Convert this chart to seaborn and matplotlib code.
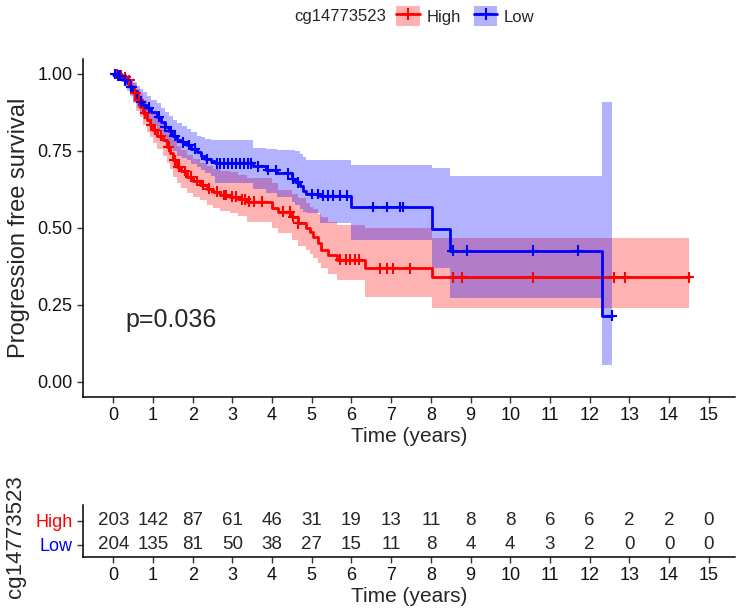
import numpy as np
import pandas as pd
import matplotlib
matplotlib.use("Agg")
import matplotlib.pyplot as plt
import seaborn as sns
from matplotlib.patches import Patch
from matplotlib.lines import Line2D

# Kaplan-Meier steps (time, survival, 95% CI)
high_time = [0.00, 0.15, 0.25, 0.34, 0.42, 0.50, 0.58, 0.67, 0.76, 0.84, 0.92, 1.00, 1.10, 1.26,
             1.35, 1.43, 1.51, 1.60, 1.70, 1.85, 2.00, 2.18, 2.35, 2.52, 2.70, 2.94, 3.15, 3.36,
             4.00, 4.15, 4.50, 4.65, 4.85, 4.95, 5.02, 5.15, 5.22, 5.40, 5.64, 6.34, 8.02]
high_surv = [1.000, 0.995, 0.990, 0.980, 0.960, 0.937, 0.915, 0.894, 0.872, 0.850, 0.835, 0.818,
             0.800, 0.786, 0.764, 0.742, 0.720, 0.699, 0.685, 0.666, 0.652, 0.639, 0.627, 0.617,
             0.607, 0.601, 0.593, 0.585, 0.565, 0.552, 0.535, 0.515, 0.500, 0.488, 0.471, 0.450,
             0.428, 0.412, 0.396, 0.369, 0.339]
high_upper = [1.000, 1.000, 1.000, 0.995, 0.985, 0.970, 0.950, 0.935, 0.915, 0.900, 0.885, 0.870,
              0.855, 0.840, 0.820, 0.800, 0.785, 0.765, 0.752, 0.737, 0.725, 0.712, 0.700, 0.692,
              0.685, 0.680, 0.672, 0.662, 0.645, 0.623, 0.610, 0.596, 0.580, 0.569, 0.560, 0.545,
              0.536, 0.520, 0.509, 0.500, 0.466]
high_lower = [1.000, 0.985, 0.975, 0.960, 0.935, 0.905, 0.880, 0.860, 0.835, 0.810, 0.795, 0.775,
              0.755, 0.735, 0.710, 0.690, 0.665, 0.645, 0.630, 0.613, 0.600, 0.590, 0.575, 0.565,
              0.555, 0.548, 0.540, 0.520, 0.499, 0.483, 0.460, 0.440, 0.428, 0.415, 0.401, 0.385,
              0.369, 0.350, 0.330, 0.276, 0.239]
high_censor = [0.10, 0.20, 0.30, 0.40, 0.55, 0.65, 0.80, 0.95, 1.05, 1.20, 1.40, 1.55, 1.65, 1.80,
               1.95, 2.10, 2.25, 2.40, 2.60, 2.80, 2.85, 3.00, 3.10, 3.25, 3.33, 3.42, 3.55, 3.75,
               4.28, 4.45, 4.53, 4.66, 5.72, 5.85, 5.97, 6.10, 6.20, 6.72, 6.89, 7.05, 7.47,
               8.56, 8.79, 10.56, 12.60, 12.90, 14.50]

low_time = [0.00, 0.10, 0.20, 0.28, 0.35, 0.42, 0.50, 0.59, 0.68, 0.76, 0.84, 0.95, 1.09, 1.20,
            1.30, 1.40, 1.50, 1.60, 1.72, 1.85, 1.95, 2.10, 2.20, 2.30, 2.45, 2.55, 3.53, 3.85,
            4.12, 4.50, 4.58, 4.70, 4.78, 4.85, 5.20, 6.00, 8.02, 8.48, 12.30]
low_surv = [1.000, 0.995, 0.990, 0.980, 0.970, 0.959, 0.945, 0.926, 0.910, 0.898, 0.890, 0.875,
            0.861, 0.845, 0.828, 0.815, 0.800, 0.786, 0.778, 0.769, 0.757, 0.747, 0.735, 0.724,
            0.716, 0.710, 0.700, 0.688, 0.677, 0.660, 0.648, 0.635, 0.620, 0.610, 0.604, 0.568,
            0.497, 0.426, 0.215]
low_upper = [1.000, 1.000, 1.000, 0.998, 0.993, 0.985, 0.975, 0.962, 0.950, 0.940, 0.930, 0.915,
             0.905, 0.890, 0.875, 0.862, 0.850, 0.840, 0.830, 0.820, 0.810, 0.800, 0.795, 0.790,
             0.787, 0.785, 0.760, 0.755, 0.753, 0.752, 0.750, 0.740, 0.730, 0.722, 0.720, 0.704,
             0.694, 0.668, 0.910]
low_lower = [1.000, 0.985, 0.975, 0.960, 0.945, 0.930, 0.910, 0.890, 0.870, 0.855, 0.845, 0.830,
             0.810, 0.795, 0.775, 0.765, 0.750, 0.735, 0.727, 0.720, 0.708, 0.699, 0.688, 0.678,
             0.670, 0.645, 0.625, 0.612, 0.600, 0.585, 0.575, 0.560, 0.550, 0.548, 0.515, 0.460,
             0.370, 0.271, 0.054]
low_censor = [0.05, 0.12, 0.18, 0.30, 0.45, 0.70, 0.90, 1.15, 1.30, 1.45, 1.55, 1.75, 1.90, 2.05,
              2.35, 2.60, 2.70, 2.80, 2.90, 3.00, 3.10, 3.20, 3.30, 3.40, 3.47, 3.65, 3.90, 4.10,
              4.40, 4.52, 4.65, 5.00, 5.16, 5.29, 5.42, 5.54, 5.71, 5.88, 6.55, 6.89, 7.22, 7.30,
              8.55, 8.90, 10.57, 11.70, 12.55]

risk_times = list(range(16))
risk_high = [203, 142, 87, 61, 46, 31, 19, 13, 11, 8, 8, 6, 6, 2, 2, 0]
risk_low = [204, 135, 81, 50, 38, 27, 15, 11, 8, 4, 4, 3, 2, 0, 0, 0]

groups = ["High", "Low"]
palette = {"High": "#FF0000", "Low": "#0000FF"}
legend_title = "cg14773523"
p_text = "p=0.036"


def km_frame(name, time, surv, lower, upper, censor):
    # extend the last step to the last follow-up time
    end = max(censor)
    t = np.append(time, end)
    df = pd.DataFrame({"time": t, "surv": np.append(surv, surv[-1]),
                       "lower": np.append(lower, lower[-1]),
                       "upper": np.append(upper, upper[-1])})
    df["group"] = name
    idx = np.searchsorted(time, censor, side="right") - 1
    cens = pd.DataFrame({"time": censor, "surv": np.asarray(surv)[idx], "group": name})
    return df, cens


high_df, high_cens = km_frame("High", high_time, high_surv, high_lower, high_upper, high_censor)
low_df, low_cens = km_frame("Low", low_time, low_surv, low_lower, low_upper, low_censor)
curves = pd.concat([high_df, low_df], ignore_index=True)
censors = pd.concat([high_cens, low_cens], ignore_index=True)

sns.set_style("ticks")
plt.rcParams["font.family"] = ["Liberation Sans", "DejaVu Sans"]

fig = plt.figure(figsize=(7.5, 6.09), dpi=100)
ax = fig.add_axes([0.1103, 0.348, 0.8697, 0.5558])
ax2 = fig.add_axes([0.1103, 0.0854, 0.8697, 0.0854])

# confidence bands
for g, df in [("High", high_df), ("Low", low_df)]:
    ax.fill_between(df["time"], df["lower"], df["upper"], step="post",
                    color=palette[g], alpha=0.3, linewidth=0)

sns.lineplot(data=curves, x="time", y="surv", hue="group", palette=palette,
             drawstyle="steps-post", linewidth=2.0, estimator=None, legend=False, ax=ax)
sns.scatterplot(data=censors, x="time", y="surv", hue="group", palette=palette,
                marker="+", s=60, linewidth=1.5, legend=False, ax=ax, zorder=5)

ax.set_xlim(-0.77, 15.66)
ax.set_ylim(-0.05, 1.05)
ax.set_xticks(risk_times)
ax.set_yticks([0, 0.25, 0.5, 0.75, 1.0])
ax.set_yticklabels([f"{v:.2f}" for v in [0, 0.25, 0.5, 0.75, 1.0]])
ax.tick_params(labelsize=13, length=4, width=1, colors="#333333", labelcolor="#111111")
ax.set_xlabel("Time (years)", fontsize=15, labelpad=2)
ax.set_ylabel("Progression free survival", fontsize=17, labelpad=5)
sns.despine(ax=ax)
for s in ["left", "bottom"]:
    ax.spines[s].set_linewidth(1.1)
    ax.spines[s].set_color("black")
ax.text(0.3, 0.2, p_text, fontsize=18, ha="left", va="center")

# legend on top
handles = [(Patch(facecolor=palette[g], alpha=0.3, edgecolor="none"),
            Line2D([], [], color=palette[g], marker="+", lw=2, markersize=9, mew=1.5))
           for g in groups]
fig.text(386 / 750, 1 - 16 / 609, legend_title, fontsize=12, ha="right", va="center")
fig.legend(handles, groups, loc="center left", bbox_to_anchor=(388 / 750, 1 - 16 / 609),
           ncol=2, frameon=False, fontsize=12, handlelength=1.4, handleheight=1.4,
           handletextpad=0.4, columnspacing=0.8, borderpad=0)

# number at risk table
for t, nh, nl in zip(risk_times, risk_high, risk_low):
    ax2.text(t, 2, str(nh), ha="center", va="center", fontsize=13.5)
    ax2.text(t, 1, str(nl), ha="center", va="center", fontsize=13.5)
ax2.set_xlim(-0.77, 15.66)
ax2.set_ylim(0.5, 2.65)
ax2.set_xticks(risk_times)
ax2.set_yticks([1, 2])
ax2.set_yticklabels(["Low", "High"])
ax2.tick_params(labelsize=13, length=4, width=1, colors="#333333", labelcolor="#111111")
for lab, g in zip(ax2.get_yticklabels(), ["Low", "High"]):
    lab.set_color(palette[g])
ax2.set_xlabel("Time (years)", fontsize=15, labelpad=2)
sns.despine(ax=ax2)
for s in ["left", "bottom"]:
    ax2.spines[s].set_linewidth(1.1)
    ax2.spines[s].set_color("black")
fig.text(16 / 750, 1 - 537 / 609, legend_title, rotation=90, fontsize=16,
         ha="center", va="center")

fig.savefig("out.png", dpi=100)
